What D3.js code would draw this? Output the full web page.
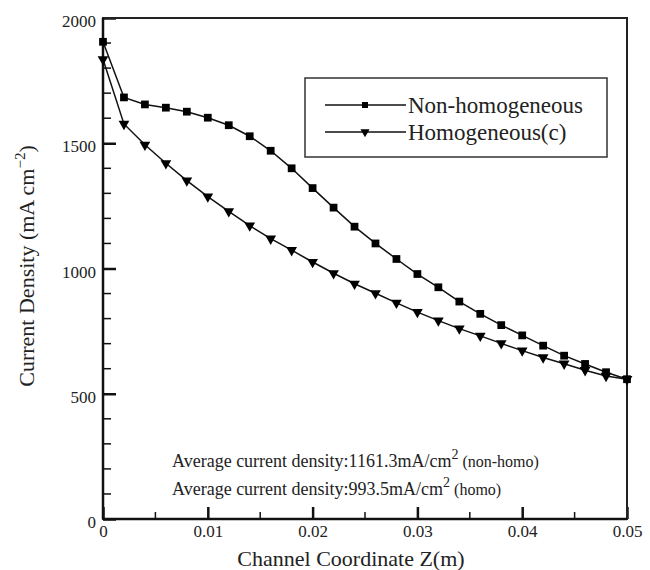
<!DOCTYPE html>
<html>
<head>
<meta charset="utf-8">
<script src="https://cdn.jsdelivr.net/npm/d3@7"></script>
<style>
  html, body { margin: 0; padding: 0; background: #fff; }
  svg { display: block; }
  svg text { font-family: "Liberation Serif", "DejaVu Serif", serif !important; }
</style>
</head>
<body>
<svg id="chart" width="650" height="570"></svg>
<script>
// ---- data ----
const zValues = [0, 0.002, 0.004, 0.006, 0.008, 0.010, 0.012, 0.014, 0.016, 0.018, 0.020, 0.022, 0.024,
                 0.026, 0.028, 0.030, 0.032, 0.034, 0.036, 0.038, 0.040, 0.042, 0.044, 0.046, 0.048, 0.050];
const nonHomogeneous = [1905, 1683, 1655, 1642, 1626, 1602, 1572, 1528, 1470, 1400, 1321, 1243, 1167,
                        1100, 1038, 978, 925, 868, 819, 774, 733, 692, 652, 619, 586, 558];
const homogeneous = [1835, 1577, 1494, 1420, 1351, 1287, 1228, 1171, 1119, 1073, 1026, 981, 939,
                     901, 863, 826, 792, 760, 731, 701, 672, 645, 620, 594, 571, 558];
const seriesNames = ["Non-homogeneous", "Homogeneous(c)"];
const xTickValues = [0, 0.01, 0.02, 0.03, 0.04, 0.05];
const xTickLabels = ["0", "0.01", "0.02", "0.03", "0.04", "0.05"];
const yTickValues = [0, 500, 1000, 1500, 2000];
const yTickLabels = ["0", "500", "1000", "1500", "2000"];
const avgNonHomo = "1161.3";
const avgHomo = "993.5";

// ---- layout ----
const FONT = "Liberation Serif";
const svg = d3.select("#chart");
const L = 103, R = 627, T = 18, B = 519;
const x = d3.scaleLinear().domain([0, 0.05]).range([L, R]);
const y = d3.scaleLinear().domain([0, 2000]).range([B, T]);

// minor ticks
const xMinor = d3.range(0, 0.0501, 0.005).filter(v => !xTickValues.some(t => Math.abs(t - v) < 1e-9));
const yMinor = d3.range(0, 2001, 100).filter(v => v % 500 !== 0);

const g = svg.append("g");

// y axis (ticks inward)
const yAxis = d3.axisLeft(y).tickValues(yTickValues).tickSizeInner(-13).tickSizeOuter(0)
  .tickFormat((d, i) => yTickLabels[i]);
const yg = g.append("g").attr("transform", `translate(${L},0)`).call(yAxis)
  .attr("font-family", FONT);
yg.select(".domain").remove();
yg.selectAll(".tick line").attr("stroke", "#111").attr("stroke-width", 2.5);
yg.selectAll(".tick text").attr("font-size", 17).attr("fill", "#222")
  .attr("font-family", FONT).attr("dy", "0.5em").attr("x", -7);

g.append("g").selectAll("line").data(yMinor).join("line")
  .attr("x1", L).attr("x2", L + 8).attr("y1", d => y(d)).attr("y2", d => y(d))
  .attr("stroke", "#111").attr("stroke-width", 1.5);

// x axis (ticks inward)
const xAxis = d3.axisBottom(x).tickValues(xTickValues).tickSizeInner(-12).tickSizeOuter(0)
  .tickFormat((d, i) => xTickLabels[i]);
const xg = g.append("g").attr("transform", `translate(0,${B})`).call(xAxis)
  .attr("font-family", FONT);
xg.select(".domain").remove();
xg.selectAll(".tick line").attr("stroke", "#111").attr("stroke-width", 2.5);
xg.selectAll(".tick text").attr("font-size", 17).attr("fill", "#222")
  .attr("font-family", FONT).attr("y", 18).attr("dy", "0");

g.append("g").selectAll("line").data(xMinor).join("line")
  .attr("x1", d => x(d)).attr("x2", d => x(d)).attr("y1", B).attr("y2", B - 7)
  .attr("stroke", "#111").attr("stroke-width", 1.5);

// frame
g.append("rect").attr("x", L).attr("y", T).attr("width", R - L).attr("height", B - T)
  .attr("fill", "none").attr("stroke", "#222").attr("stroke-width", 2);
g.append("line").attr("x1", L).attr("x2", L).attr("y1", T).attr("y2", B)
  .attr("stroke", "#111").attr("stroke-width", 2.5);
g.append("line").attr("x1", L).attr("x2", R).attr("y1", B).attr("y2", B)
  .attr("stroke", "#111").attr("stroke-width", 2.5);

// series
const line = d3.line().x(d => x(d[0])).y(d => y(d[1]));
const dataNH = zValues.map((z, i) => [z, nonHomogeneous[i]]);
const dataH = zValues.map((z, i) => [z, homogeneous[i]]);

const squareSym = d3.symbol().type(d3.symbolSquare).size(60);
const triSym = d3.symbol().type(d3.symbolTriangle).size(50);

g.append("path").datum(dataH).attr("d", line).attr("fill", "none")
  .attr("stroke", "#111").attr("stroke-width", 1.5);
g.append("path").datum(dataNH).attr("d", line).attr("fill", "none")
  .attr("stroke", "#111").attr("stroke-width", 1.5);

g.append("g").selectAll("path").data(dataH).join("path")
  .attr("d", triSym).attr("fill", "#000")
  .attr("transform", d => `translate(${x(d[0])},${y(d[1])}) rotate(180)`);
g.append("g").selectAll("path").data(dataNH).join("path")
  .attr("d", squareSym).attr("fill", "#000")
  .attr("transform", d => `translate(${x(d[0])},${y(d[1])})`);

// legend
const lg = svg.append("g");
lg.append("rect").attr("x", 305).attr("y", 78).attr("width", 302).attr("height", 79)
  .attr("fill", "#fff").attr("stroke", "#333").attr("stroke-width", 1.5);
const legendSquare = d3.symbol().type(d3.symbolSquare).size(36);
const legendTri = d3.symbol().type(d3.symbolTriangle).size(36);
const legendRows = [
  { name: seriesNames[0], sym: legendSquare, rot: 0, y: 105 },
  { name: seriesNames[1], sym: legendTri, rot: 180, y: 132 }
];
legendRows.forEach(r => {
  lg.append("line").attr("x1", 325).attr("x2", 406).attr("y1", r.y).attr("y2", r.y)
    .attr("stroke", "#111").attr("stroke-width", 1.5);
  lg.append("path").attr("d", r.sym()).attr("fill", "#000")
    .attr("transform", `translate(365,${r.y}) rotate(${r.rot})`);
  lg.append("text").attr("x", 408).attr("y", r.y + 8).attr("font-size", 23)
    .attr("font-family", FONT).attr("fill", "#222").text(r.name);
});

// annotations
function avgText(yBase, val, tag) {
  const t = svg.append("text").attr("x", 172).attr("y", yBase).attr("font-size", 18)
    .attr("font-family", FONT).attr("fill", "#222");
  t.append("tspan").text(`Average current density:${val}mA/cm`);
  t.append("tspan").attr("dy", -8).attr("font-size", 14).text("2");
  t.append("tspan").attr("dy", 8).attr("font-size", 16).text(` (${tag})`);
}
avgText(467, avgNonHomo, "non-homo");
avgText(495, avgHomo, "homo");

// axis titles
svg.append("text").attr("x", 351).attr("y", 566).attr("text-anchor", "middle")
  .attr("font-family", FONT).attr("font-size", 22).attr("fill", "#222")
  .text("Channel Coordinate Z(m)");

const yt = svg.append("text").attr("transform", "translate(34,266) rotate(-90)")
  .attr("text-anchor", "middle").attr("font-family", FONT)
  .attr("font-size", 22).attr("fill", "#222");
yt.append("tspan").text("Current Density (mA cm");
yt.append("tspan").attr("dy", -9).attr("font-size", 15).text("−2");
yt.append("tspan").attr("dy", 9).text(")");
</script>
</body>
</html>
